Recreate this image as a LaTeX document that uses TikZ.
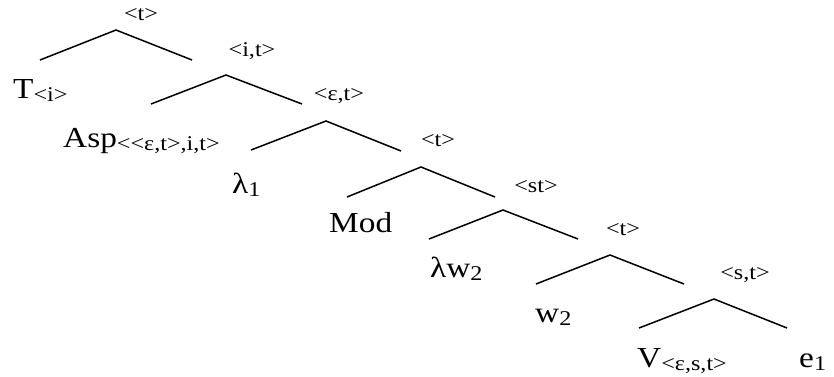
\documentclass[tikz,border=0pt]{standalone}
\usepackage{fontspec}
\setmainfont{Liberation Serif}[FakeStretch=1.15]
\newcommand{\lf}{\fontsize{29}{29}\selectfont}
\newcommand{\sm}{\fontsize{21}{21}\selectfont}
\newcommand{\sbs}[1]{\raisebox{-3pt}{\sm #1}}
\begin{document}
\begin{tikzpicture}[x=1pt,y=-1pt,
  branch/.style={line width=1.5pt},
  leaf/.style={anchor=base west,inner sep=0pt,font=\lf},
  typ/.style={anchor=center,inner sep=0pt,font=\sm}]
\useasboundingbox (0,0) rectangle (834,376);
% apexes and branch ends
\foreach \n/\ax/\ay/\lx/\ly/\rx/\ry in {
  1/116/30/40/60/192/60,
  2/226/75/151/104/302/104,
  3/326/121/251/150/401/151,
  4/421/167/347/197/495/197,
  5/503/210/429/239/578/239,
  6/610/255/536/284/684/284,
  7/714/299/639/328/787/328}{
  \coordinate (a\n) at (\ax,\ay);
  \coordinate (l\n) at (\lx,\ly);
  \coordinate (r\n) at (\rx,\ry);
  \draw[branch] (l\n) -- (a\n) -- (r\n);
}
% type labels
\node[typ] (t1) at (141,15) {<t>};
\node[typ] (t2) at (252,51) {<i,t>};
\node[typ] (t3) at (339,96) {<ε,t>};
\node[typ] (t4) at (438,141) {<t>};
\node[typ] (t5) at (536,187) {<st>};
\node[typ] (t6) at (623,230) {<t>};
\node[typ] (t7) at (745,275) {<s,t>};
% leaves
\node[leaf] (T) at (13,98) {T\sbs{<i>}};
\node[leaf] (Asp) at (63,147) {Asp\sbs{<{}<ε,t>,i,t>}};
\node[leaf] (lam1) at (232,193) {λ\sbs{1}};
\node[leaf] (Mod) at (329,232) {Mod};
\node[leaf] (lamw) at (430,277) {λw\sbs{2}};
\node[leaf] (w2) at (535,322) {w\sbs{2}};
\node[leaf] (V) at (637,367) {V\sbs{<ε,s,t>}};
\node[leaf] (e1) at (799,367) {e\sbs{1}};
\end{tikzpicture}
\end{document}
